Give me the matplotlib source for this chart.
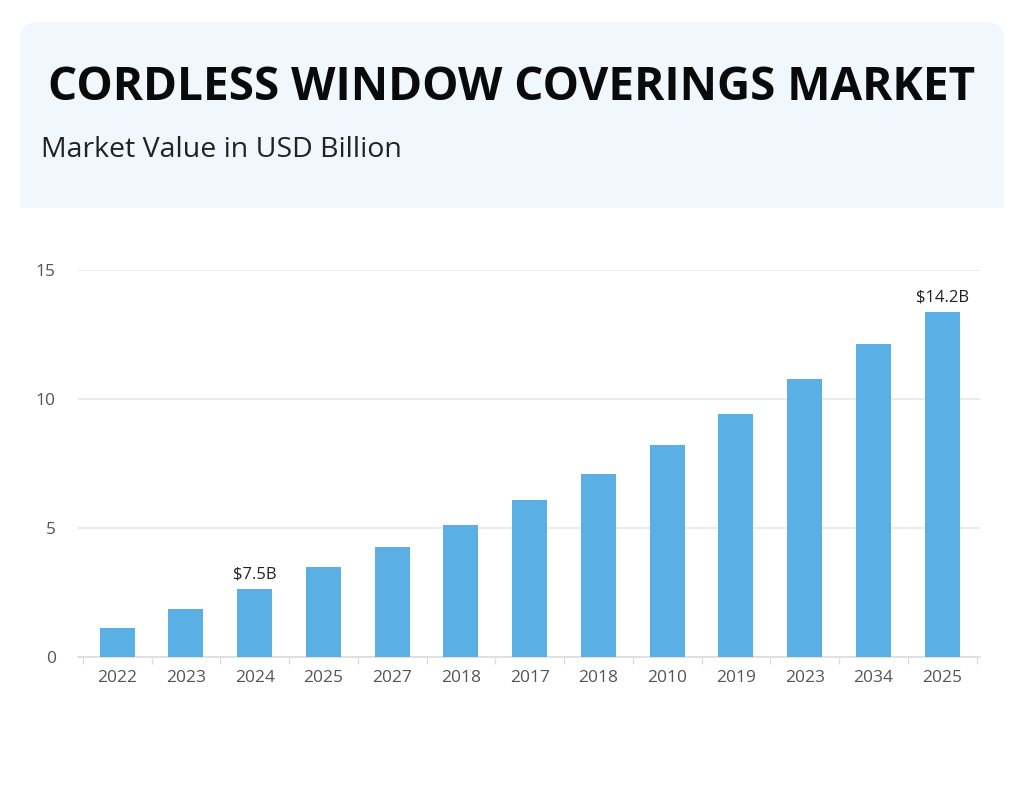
import matplotlib.pyplot as plt
from matplotlib.patches import FancyBboxPatch, Rectangle

years = ['2022', '2023', '2024', '2025', '2027', '2018', '2017', '2018',
         '2010', '2019', '2023', '2034', '2025']
values = [1.14, 1.86, 2.62, 3.48, 4.25, 5.12, 6.09, 7.09, 8.22, 9.41, 10.76, 12.12, 13.37]
labels = {2: '$7.5B', 12: '$14.2B'}

plt.rcParams['font.family'] = ['Open Sans', 'DejaVu Sans']

fig = plt.figure(figsize=(10.24, 7.96), dpi=100)
fig.patch.set_facecolor('white')

# header card: rounded top corners, flat bottom
hcol = '#f0f7fd'
header = FancyBboxPatch((20 / 1024, 1 - 208 / 796), 984 / 1024, 186 / 796,
                        boxstyle='round,pad=0,rounding_size=0.02',
                        transform=fig.transFigure, facecolor=hcol,
                        edgecolor='none', zorder=0)
fig.patches.append(header)
fig.patches.append(Rectangle((20 / 1024, 1 - 208 / 796), 984 / 1024, 40 / 796,
                             transform=fig.transFigure, facecolor=hcol,
                             edgecolor='none', zorder=0))
fig.text(0.5, 1 - 88 / 796, 'CORDLESS WINDOW COVERINGS MARKET', ha='center', va='center',
         fontsize=33, fontweight='bold', color='#0a0a0a')
fig.text(41 / 1024, 1 - 150 / 796, 'Market Value in USD Billion', ha='left', va='center',
         fontsize=20.5, color='#222222')

ax = fig.add_axes([78 / 1024, 1 - 657 / 796, 902 / 1024, (657 - 270) / 796])
x = list(range(len(years)))
ax.bar(x, values, width=0.51, color='#5aafe4', zorder=3)

for i, txt in labels.items():
    ax.text(x[i], values[i] + 0.25, txt, ha='center', va='bottom', fontsize=12, color='#222222')

ax.set_xlim(-0.57, len(years) - 0.45)
ax.set_ylim(0, 15)
ax.set_yticks([0, 5, 10, 15])
ax.set_xticks(x)
ax.set_xticklabels(years)
ax.set_xticks([i - 0.5 for i in range(len(years) + 1)], minor=True)

ax.grid(axis='y', color='#e8e8e8', linewidth=1.2, zorder=0)
for s in ['top', 'right', 'left']:
    ax.spines[s].set_visible(False)
ax.spines['bottom'].set_color('#dddddd')
ax.spines['bottom'].set_linewidth(1.2)

ax.tick_params(axis='y', length=0, pad=16, labelsize=12.5, labelcolor='#555555')
ax.tick_params(axis='x', which='major', length=0, pad=9, labelsize=12.5, labelcolor='#555555')
ax.tick_params(axis='x', which='minor', length=5, color='#dddddd', width=1)

fig.savefig('out.png', dpi=100, facecolor='white')
